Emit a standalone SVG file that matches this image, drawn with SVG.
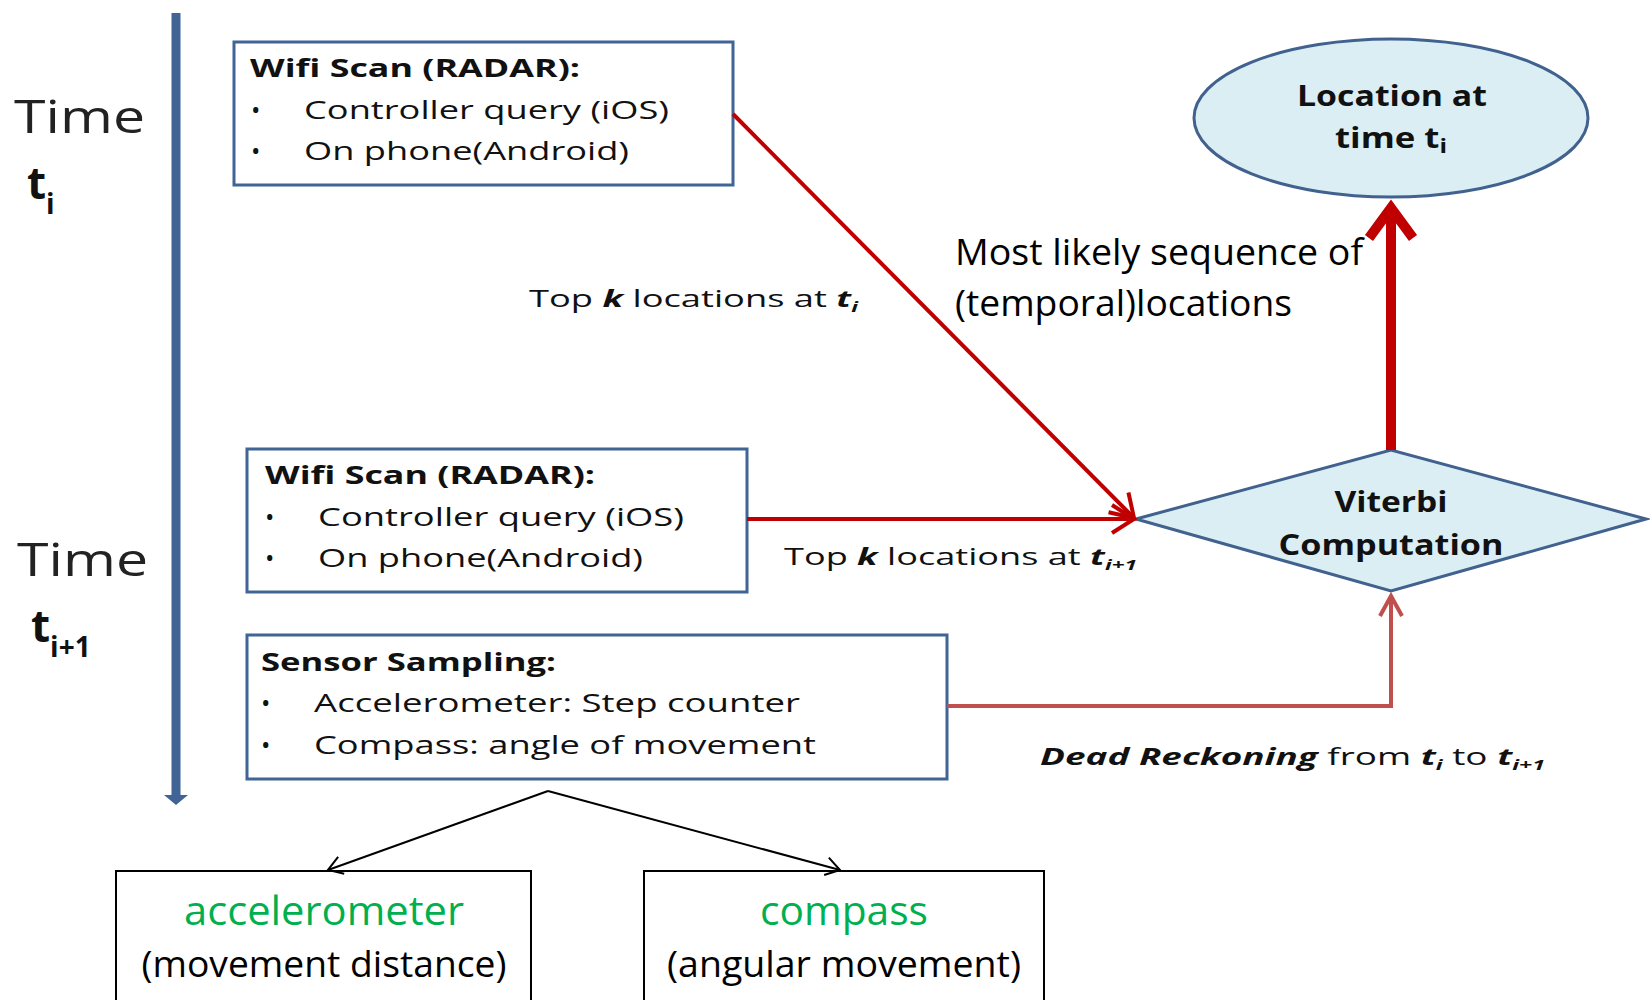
<svg xmlns="http://www.w3.org/2000/svg" width="1650" height="1000" viewBox="0 0 1650 1000">
<style>
.box{fill:#fff;stroke:#3F6495;stroke-width:3}
.bt{font-family:"Open Sans","DejaVu Sans",sans-serif;font-size:25px;font-weight:bold;fill:#111}
.bx{font-family:"Open Sans","DejaVu Sans",sans-serif;font-size:25px;fill:#111}
.lbl{font-family:"Open Sans","DejaVu Sans",sans-serif;font-size:24px;fill:#111}
.big{font-family:"Open Sans","DejaVu Sans",sans-serif;font-size:36px;fill:#000}
.shape{fill:#DAEEF3;stroke:#41618E;stroke-width:3}
.st{font-family:"Open Sans","DejaVu Sans",sans-serif;font-size:28px;font-weight:bold;fill:#111;text-anchor:middle}
.time{font-family:"Open Sans","DejaVu Sans",sans-serif;font-size:46px;fill:#222}
.tt{font-family:"Open Sans","DejaVu Sans",sans-serif;font-size:44px;font-weight:bold;fill:#111}
.green{font-family:"Open Sans","DejaVu Sans",sans-serif;font-size:40px;fill:#00B050;text-anchor:middle}
.sub{font-family:"Open Sans","DejaVu Sans",sans-serif;font-size:36px;fill:#000;text-anchor:middle}
.bi{font-weight:bold;font-style:italic}
.red{stroke:#C00000;fill:none;stroke-width:4}
.lred{stroke:#C0504D;fill:none;stroke-width:4}
.blk{stroke:#000;fill:none;stroke-width:2}
</style>
<defs>
<marker id="ahRed" markerUnits="userSpaceOnUse" markerWidth="50" markerHeight="50" viewBox="-25 -25 50 50" refX="0" refY="0" orient="auto">
<path d="M -22 -14 L 0 0 L -22 14" fill="none" stroke="#C00000" stroke-width="4"/>
</marker>
<marker id="ahLRed" markerUnits="userSpaceOnUse" markerWidth="50" markerHeight="50" viewBox="-25 -25 50 50" refX="0" refY="0" orient="auto">
<path d="M -20 -11 L 0 0 L -20 11" fill="none" stroke="#C0504D" stroke-width="4"/>
</marker>
<marker id="ahBlk" markerUnits="userSpaceOnUse" markerWidth="40" markerHeight="40" viewBox="-20 -20 40 40" refX="0" refY="0" orient="auto">
<path d="M -14 -9 L 0 0 L -14 9" fill="none" stroke="#000" stroke-width="2"/>
</marker>
</defs>
<rect width="1650" height="1000" fill="#fff"/>

<g id="timeline">
<line x1="176" y1="13" x2="176" y2="797" stroke="#3F6495" stroke-width="9"/>
<polygon points="164,795 188,795 176,805" fill="#3F6495"/>
<text class="time" x="14" y="133" textLength="131" lengthAdjust="spacingAndGlyphs">Time</text>
<text class="tt" x="27" y="199">t<tspan font-size="28" dy="15">i</tspan></text>
<text class="time" x="17" y="576" textLength="131" lengthAdjust="spacingAndGlyphs">Time</text>
<text class="tt" x="31" y="642">t<tspan font-size="28" dy="15">i+1</tspan></text>
</g>

<g id="wifi1">
<rect class="box" x="234" y="42" width="499" height="143"/>
<text class="bt" x="250" y="77" textLength="330" lengthAdjust="spacingAndGlyphs">Wifi Scan (RADAR):</text>
<text class="bx" x="251" y="119">•</text>
<text class="bx" x="304" y="119" textLength="365" lengthAdjust="spacingAndGlyphs">Controller query (iOS)</text>
<text class="bx" x="251" y="160">•</text>
<text class="bx" x="304" y="160" textLength="325" lengthAdjust="spacingAndGlyphs">On phone(Android)</text>
</g>

<g id="wifi2">
<rect class="box" x="247" y="449" width="500" height="143"/>
<text class="bt" x="265" y="484" textLength="330" lengthAdjust="spacingAndGlyphs">Wifi Scan (RADAR):</text>
<text class="bx" x="265" y="526">•</text>
<text class="bx" x="318" y="526" textLength="366" lengthAdjust="spacingAndGlyphs">Controller query (iOS)</text>
<text class="bx" x="265" y="567">•</text>
<text class="bx" x="318" y="567" textLength="325" lengthAdjust="spacingAndGlyphs">On phone(Android)</text>
</g>

<g id="sensor">
<rect class="box" x="247" y="635" width="700" height="144"/>
<text class="bt" x="261" y="671" textLength="295" lengthAdjust="spacingAndGlyphs">Sensor Sampling:</text>
<text class="bx" x="261" y="712">•</text>
<text class="bx" x="314" y="712" textLength="486" lengthAdjust="spacingAndGlyphs">Accelerometer: Step counter</text>
<text class="bx" x="261" y="754">•</text>
<text class="bx" x="314" y="754" textLength="502" lengthAdjust="spacingAndGlyphs">Compass: angle of movement</text>
</g>

<g id="location">
<ellipse class="shape" cx="1391" cy="118" rx="197" ry="79"/>
<text class="st" x="1392" y="106" textLength="190" lengthAdjust="spacingAndGlyphs">Location at</text>
<text class="st" x="1391" y="148" textLength="112" lengthAdjust="spacingAndGlyphs">time t<tspan font-size="20" dy="5">i</tspan></text>
</g>

<g id="viterbi">
<polygon class="shape" points="1136,519 1391,450 1646,519 1391,591"/>
<text class="st" x="1391" y="512" textLength="113" lengthAdjust="spacingAndGlyphs">Viterbi</text>
<text class="st" x="1391" y="555" textLength="225" lengthAdjust="spacingAndGlyphs">Computation</text>
</g>

<g id="accel">
<rect x="116" y="871" width="415" height="140" fill="#fff" stroke="#000" stroke-width="2"/>
<text class="green" x="324" y="925" textLength="280" lengthAdjust="spacingAndGlyphs">accelerometer</text>
<text class="sub" x="324" y="977" textLength="365" lengthAdjust="spacingAndGlyphs">(movement distance)</text>
</g>

<g id="compass">
<rect x="644" y="871" width="400" height="140" fill="#fff" stroke="#000" stroke-width="2"/>
<text class="green" x="844" y="925" textLength="168" lengthAdjust="spacingAndGlyphs">compass</text>
<text class="sub" x="844" y="977" textLength="354" lengthAdjust="spacingAndGlyphs">(angular movement)</text>
</g>

<g id="connectors">
<line class="red" x1="733" y1="114" x2="1134" y2="518" marker-end="url(#ahRed)"/>
<line class="red" x1="747" y1="519" x2="1134" y2="519" marker-end="url(#ahRed)"/>
<line x1="1391" y1="450" x2="1391" y2="208" stroke="#C00000" stroke-width="10"/>
<polyline points="1369,238 1391,208 1413,238" fill="none" stroke="#C00000" stroke-width="10"/>
<polyline class="lred" points="947,706 1391,706 1391,596" marker-end="url(#ahLRed)"/>
<line class="blk" x1="548" y1="791" x2="328" y2="870" marker-end="url(#ahBlk)"/>
<line class="blk" x1="548" y1="791" x2="840" y2="870" marker-end="url(#ahBlk)"/>
</g>

<g id="labels">
<text class="lbl" x="529" y="307" textLength="329" lengthAdjust="spacingAndGlyphs">Top <tspan class="bi">k</tspan> locations at <tspan class="bi">t</tspan><tspan class="bi" font-size="15" dy="5">i</tspan></text>
<text class="lbl" x="784" y="565" textLength="353" lengthAdjust="spacingAndGlyphs">Top <tspan class="bi">k</tspan> locations at <tspan class="bi">t</tspan><tspan class="bi" font-size="15" dy="5">i+1</tspan></text>
<text class="lbl" x="1040" y="765" textLength="505" lengthAdjust="spacingAndGlyphs"><tspan class="bi">Dead Reckoning</tspan> from <tspan class="bi">t</tspan><tspan class="bi" font-size="15" dy="5">i</tspan><tspan dy="-5"> to </tspan><tspan class="bi">t</tspan><tspan class="bi" font-size="15" dy="5">i+1</tspan></text>
<text class="big" x="955" y="265" textLength="408" lengthAdjust="spacingAndGlyphs">Most likely sequence of</text>
<text class="big" x="955" y="316" textLength="337" lengthAdjust="spacingAndGlyphs">(temporal)locations</text>
</g>
</svg>
